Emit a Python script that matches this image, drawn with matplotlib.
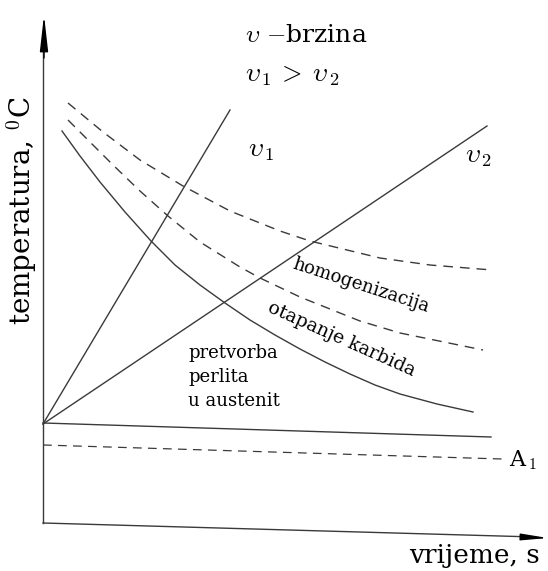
import matplotlib.pyplot as plt

# Schematic: heating of eutectoid steel at two rates (v1 > v2).
# Coordinates are arbitrary units: time from the y-axis, temperature above the x-axis.

# solid curve - end of pearlite -> austenite transformation
solid_t = [19, 37, 57, 82, 108, 132, 157, 182, 207, 232, 257, 282, 307, 332, 357, 394, 430]
solid_T = [397, 372, 346, 316, 287, 263, 243, 225, 208, 193, 179, 166, 154, 143, 134, 124, 116]

# dashed curve - end of carbide dissolution
carb_t = [25, 47, 70, 97, 125, 157, 197, 217, 257, 317, 357, 440]
carb_T = [408, 386, 363, 337, 312, 286, 261, 250, 231, 207, 195, 178]

# dashed curve - end of homogenisation
homog_t = [25, 60, 97, 140, 187, 237, 267, 337, 387, 449]
homog_T = [425, 396, 368, 342, 317, 297, 287, 270, 263, 258]

# heating rates (straight lines from the start point)
v1_t = [0, 187]
v1_T = [104, 418]
v2_t = [0, 444]
v2_T = [104, 402]

# start temperature level and A1 line (scan is slightly skewed)
start_t = [0, 448]
start_T = [105, 91]
a1_t = [0, 459]
a1_T = [83, 69]

# axes frame
xaxis_t = [0, 492]
xaxis_T = [5, -9]

col = '#3a3a3a'
plt.rcParams['mathtext.fontset'] = 'cm'
serif = ['DejaVu Serif']

fig = plt.figure(figsize=(5.48, 5.71), dpi=100)
ax = fig.add_axes([0, 0, 1, 1])
ax.set_xlim(-43, 505)
ax.set_ylim(-43, 528)
ax.axis('off')

ax.plot(solid_t, solid_T, color=col, lw=1.0)
ax.plot(carb_t, carb_T, color=col, lw=1.0, dashes=(7, 5))
ax.plot(homog_t, homog_T, color=col, lw=1.0, dashes=(7, 5))
ax.plot(v1_t, v1_T, color=col, lw=1.0)
ax.plot(v2_t, v2_T, color=col, lw=1.0)
ax.plot(start_t, start_T, color=col, lw=1.0)
ax.plot(a1_t, a1_T, color=col, lw=0.9, dashes=(7, 5))

# axes with arrows
ax.plot([0, 0], [5, 490], color=col, lw=1.0)
ax.annotate('', xy=(1, 513), xytext=(1, 470),
            arrowprops=dict(arrowstyle='-|>,head_length=2.2,head_width=0.25',
                            color='black', lw=1.0, shrinkA=0, shrinkB=0))
ax.plot(xaxis_t, xaxis_T, color=col, lw=1.0)
ax.annotate('', xy=(505, -10), xytext=(478, -9),
            arrowprops=dict(arrowstyle='-|>,head_length=1.6,head_width=0.2',
                            color='black', lw=1.0, shrinkA=0, shrinkB=0))

# labels
ax.text(-21, 317, 'temperatura, $^0$C', rotation=90, ha='center', va='center',
        fontsize=20, family=serif)
ax.text(497, -27, 'vrijeme, s', ha='right', va='center', fontsize=19, family=serif)
ax.text(202, 493, r'$\upsilon$ $-$brzina', ha='left', va='center', fontsize=18,
        family=serif)
ax.text(202, 453, r'$\upsilon_{\,1}\,>\;\upsilon_{\,2}$', ha='left', va='center',
        fontsize=19)
ax.text(205, 378, r'$\upsilon_{\,1}$', ha='left', va='center', fontsize=19)
ax.text(422, 372, r'$\upsilon_{\,2}$', ha='left', va='center', fontsize=19)
ax.text(466, 68, r'A$_{\,1}$', ha='left', va='center', fontsize=16, family=serif)

ax.text(318, 243, 'homogenizacija', rotation=-18, ha='center', va='center',
        fontsize=13, family=serif)
ax.text(299, 189, 'otapanje karbida', rotation=-24, ha='center', va='center',
        fontsize=13.5, family=serif)
ax.text(145, 151, 'pretvorba\nperlita\nu austenit', ha='left', va='center',
        fontsize=13, family=serif, linespacing=1.45)

fig.savefig('out.png', dpi=100)
